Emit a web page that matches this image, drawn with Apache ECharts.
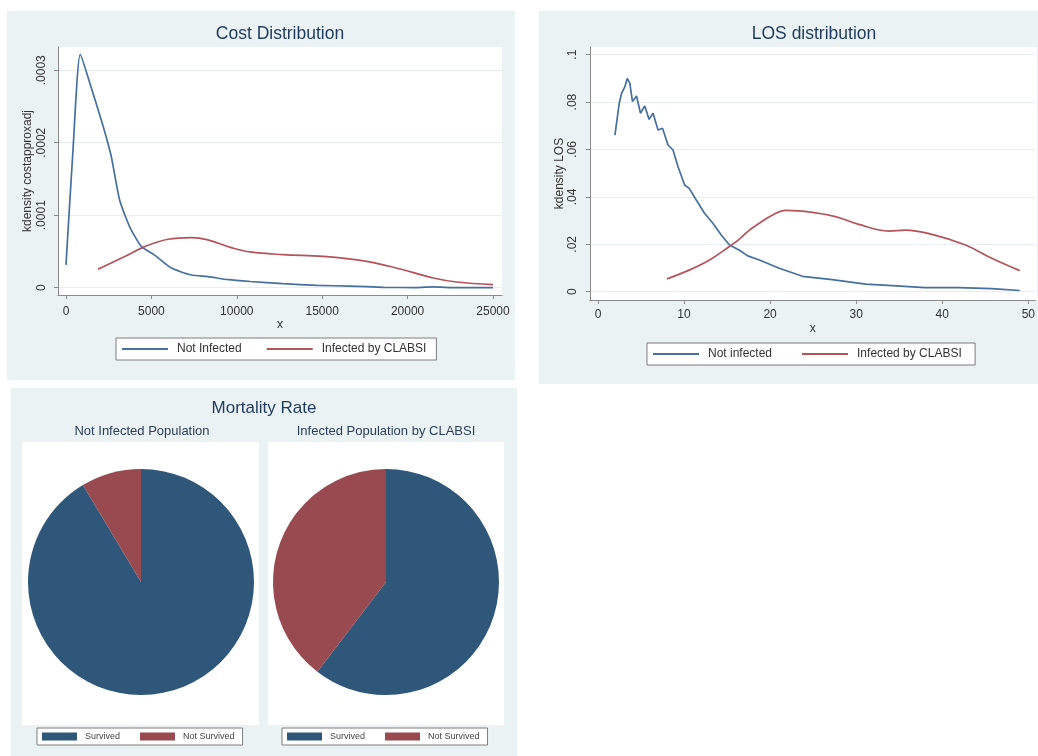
<!DOCTYPE html>
<html>
<head>
<meta charset="utf-8">
<title>Cost, LOS and Mortality</title>
<script src="https://cdn.jsdelivr.net/npm/echarts@6/dist/echarts.min.js"></script>
<style>
  html, body { margin: 0; padding: 0; background: #ffffff; }
  #chart { width: 1038px; height: 756px; }
</style>
</head>
<body>
<div id="chart"></div>
<script>
// Kernel density of cost (x, density)
const costNotInfected = [
  [0, 0.0000314], [410, 0.000190], [837, 0.000322], [1480, 0.000276], [2170, 0.000223],
  [2650, 0.000181], [3140, 0.000121], [3730, 0.000084], [4410, 0.000057], [5190, 0.000045],
  [6170, 0.000027], [7340, 0.0000175], [8310, 0.0000152], [9500, 0.000011], [10800, 0.0000085],
  [12700, 0.0000055], [14700, 0.0000032], [16600, 0.0000022], [18600, 0.0000005],
  [20500, 0.0000002], [21500, 0.0000012], [22500, 0.0000001], [25000, 0.0000002]
];
const costInfected = [
  [1870, 0.0000253], [3440, 0.0000429], [4610, 0.0000567], [5970, 0.0000668], [7340, 0.0000692],
  [8310, 0.000066], [9680, 0.0000553], [10770, 0.0000493], [12720, 0.0000456], [15070, 0.0000433],
  [17610, 0.0000364], [19560, 0.0000258], [21510, 0.0000134], [22870, 0.0000078], [25000, 0.0000041]
];

// Kernel density of length of stay (days, density)
const losNotInfected = [
  [1.97, 0.0661], [2.47, 0.0795], [2.74, 0.0837], [3.13, 0.0865], [3.4, 0.090], [3.7, 0.088],
  [4.01, 0.0802], [4.48, 0.0826], [4.94, 0.0753], [5.44, 0.0784], [5.94, 0.0727], [6.4, 0.0753],
  [6.98, 0.0682], [7.5, 0.069], [8.14, 0.0619], [8.72, 0.0598], [9.3, 0.0527], [10.07, 0.045],
  [10.6, 0.0436], [11.42, 0.0387], [12.38, 0.0331], [13.35, 0.0289], [14.32, 0.0239],
  [15.28, 0.0197], [16.44, 0.0175], [17.4, 0.0151], [18.75, 0.0134], [21.06, 0.0099],
  [23.76, 0.0065], [27.2, 0.0051], [31.1, 0.0032], [34.2, 0.0026], [38.0, 0.0017],
  [41.9, 0.0017], [45.75, 0.0013], [49.0, 0.0005]
];
const losInfected = [
  [8.02, 0.0054], [10.65, 0.0092], [12.96, 0.0134], [15.28, 0.0191], [16.44, 0.0222],
  [17.6, 0.026], [18.75, 0.0289], [20.3, 0.0324], [21.84, 0.0343], [24.9, 0.0335],
  [27.6, 0.0317], [30.3, 0.0284], [33.8, 0.0256], [35.7, 0.026], [38.8, 0.0242],
  [42.7, 0.0197], [45.75, 0.0141], [49.0, 0.0089]
];

// Mortality shares (%)
const outcomeNames = ['Survived', 'Not Survived'];
const mortalityNotInfected = [91.4, 8.6];
const mortalityInfected = [60.4, 39.6];

// Tick values
const costTicksX = [0, 5000, 10000, 15000, 20000, 25000];
const costTicksY = [0, 0.0001, 0.0002, 0.0003];
const losTicksX = [0, 10, 20, 30, 40, 50];
const losTicksY = [0, 0.02, 0.04, 0.06, 0.08, 0.1];

const FONT = '"Liberation Sans", Arial, sans-serif';
const PANEL = '#eaf2f3';
const LINE_BLUE = '#4570a0';
const LINE_RED = '#b5535b';
const PIE_BLUE = '#2e5779';
const PIE_RED = '#994950';
const TITLE_COLOR = '#1f3a5e';
const AXIS_COLOR = '#8a8a8a';
const LABEL_COLOR = '#333333';

function stataNum(v) {
  if (v === 0) return '0';
  return String(+v.toPrecision(6)).replace(/^0\./, '.');
}

function xAxisDef(gridIndex, ticks, min, max, margin, nameGap) {
  return {
    type: 'value', gridIndex, min, max,
    name: 'x', nameLocation: 'middle', nameGap,
    nameTextStyle: { fontFamily: FONT, fontSize: 12, color: LABEL_COLOR },
    axisLine: { show: true, onZero: false, lineStyle: { color: AXIS_COLOR, width: 1 } },
    axisTick: { show: true, length: 4, customValues: ticks, lineStyle: { color: AXIS_COLOR } },
    axisLabel: { customValues: ticks, margin, fontFamily: FONT, fontSize: 12, color: LABEL_COLOR,
                 formatter: v => String(v) },
    splitLine: { show: false }
  };
}

function yAxisDef(gridIndex, ticks, min, max, name, margin, nameGap) {
  return {
    type: 'value', gridIndex, min, max,
    name, nameLocation: 'middle', nameGap, nameRotate: 90,
    nameTextStyle: { fontFamily: FONT, fontSize: 12, color: LABEL_COLOR },
    axisLine: { show: true, onZero: false, lineStyle: { color: AXIS_COLOR, width: 1 } },
    axisTick: { show: true, length: 4, customValues: ticks, lineStyle: { color: AXIS_COLOR } },
    axisLabel: { customValues: ticks, rotate: 90, margin, fontFamily: FONT, fontSize: 12,
                 color: LABEL_COLOR, formatter: stataNum },
    splitLine: { show: true, lineStyle: { color: '#e6eef1', width: 1 } }
  };
}

function lineSeries(name, data, color, xi, smooth) {
  return {
    type: 'line', name, data, xAxisIndex: xi, yAxisIndex: xi,
    showSymbol: false, symbol: 'none', smooth,
    lineStyle: { color, width: 1.7 }, itemStyle: { color },
    emphasis: { disabled: true }, z: 3
  };
}

function pieSeries(values, cx) {
  return {
    type: 'pie', center: [cx, 582], radius: 113, startAngle: 90, clockwise: true,
    label: { show: false }, labelLine: { show: false }, silent: true,
    itemStyle: { borderWidth: 0 },
    data: outcomeNames.map((n, i) => ({ name: n, value: values[i],
      itemStyle: { color: i === 0 ? PIE_BLUE : PIE_RED } }))
  };
}

function lineLegend(left, top, names, gap) {
  return {
    left, top, orient: 'horizontal', data: names, icon: 'rect',
    itemWidth: 46, itemHeight: 2, itemGap: gap,
    padding: [5, 10, 5, 6],
    backgroundColor: '#ffffff', borderColor: '#7d7d7d', borderWidth: 1, borderRadius: 0,
    textStyle: { fontFamily: FONT, fontSize: 12, color: '#333', padding: [0, 0, 0, 4] },
    selectedMode: false
  };
}

function pieLegend(left) {
  return {
    left, top: 728, orient: 'horizontal', data: outcomeNames, icon: 'rect',
    itemWidth: 35, itemHeight: 8, itemGap: 20,
    padding: [4, 8, 4, 5],
    backgroundColor: '#ffffff', borderColor: '#7d7d7d', borderWidth: 1, borderRadius: 0,
    textStyle: { fontFamily: FONT, fontSize: 9, color: '#444', padding: [0, 0, 0, 3] },
    selectedMode: false
  };
}

function text(x, y, str, size, color) {
  return { type: 'text', x, y, z: 10,
    style: { text: str, fontFamily: FONT, fontSize: size, fill: color,
             textAlign: 'center', textVerticalAlign: 'middle' } };
}

function rect(x, y, w, h, fill) {
  return { type: 'rect', shape: { x, y, width: w, height: h }, z: -10, silent: true,
           style: { fill } };
}

const chart = echarts.init(document.getElementById('chart'), null, { renderer: 'canvas' });

chart.setOption({
  animation: false,
  backgroundColor: '#ffffff',
  graphic: [
    // panel backgrounds
    rect(7, 11, 508, 369, PANEL),
    rect(539, 11, 499, 373, PANEL),
    rect(11, 388, 506, 368, PANEL),
    // plot regions
    rect(58, 47, 444, 248, '#ffffff'),
    rect(590, 47, 447, 253, '#ffffff'),
    rect(22, 442, 237, 283, '#ffffff'),
    rect(268, 442, 236, 283, '#ffffff'),
    // titles
    text(280, 34, 'Cost Distribution', 17.5, TITLE_COLOR),
    text(814, 34, 'LOS distribution', 17.5, TITLE_COLOR),
    text(264, 408, 'Mortality Rate', 17, TITLE_COLOR),
    text(142, 431, 'Not Infected Population', 13, '#2c3f5c'),
    text(386, 431, 'Infected Population by CLABSI', 13, '#2c3f5c')
  ],
  grid: [
    { left: 58, top: 47, width: 444, height: 248, containLabel: false },
    { left: 590, top: 47, width: 447, height: 253, containLabel: false }
  ],
  xAxis: [
    xAxisDef(0, costTicksX, -468, 25528, 11, 24),
    xAxisDef(1, losTicksX, -0.926, 50.81, 9, 23)
  ],
  yAxis: [
    yAxisDef(0, costTicksY, -0.0000101, 0.0003321, 'kdensity costapproxadj', 10, 24),
    yAxisDef(1, losTicksY, -0.0035, 0.10325, 'kdensity LOS', 11, 22)
  ],
  legend: [
    lineLegend(116, 338, ['Not Infected', 'Infected by CLABSI'], 25),
    lineLegend(647, 343, ['Not infected', 'Infected by CLABSI '], 30),
    pieLegend(37),
    pieLegend(282)
  ],
  series: [
    lineSeries('Not Infected', costNotInfected, LINE_BLUE, 0, 0.2),
    lineSeries('Infected by CLABSI', costInfected, LINE_RED, 0, 0.4),
    lineSeries('Not infected', losNotInfected, LINE_BLUE, 1, false),
    lineSeries('Infected by CLABSI ', losInfected, LINE_RED, 1, 0.4),
    pieSeries(mortalityNotInfected, 141),
    pieSeries(mortalityInfected, 386)
  ]
});
</script>
</body>
</html>
